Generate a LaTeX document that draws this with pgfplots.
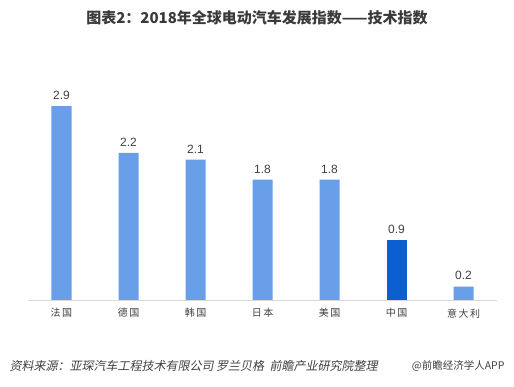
\documentclass[border=0pt]{standalone}
\usepackage{fontspec}
\setmainfont{Liberation Sans}
\newfontfamily\cjk{Noto Sans CJK SC}
\newfontfamily\cjkit{Noto Sans CJK SC}[FakeSlant=0.2]
\usepackage{pgfplots}
\pgfplotsset{compat=1.18}
\definecolor{barblue}{HTML}{699EE8}
\definecolor{cnblue}{HTML}{0C5FD0}
\definecolor{axgray}{HTML}{D9D9D9}
\definecolor{txt}{HTML}{404040}
\begin{document}
\begin{tikzpicture}[x=1pt,y=1pt]
\path[use as bounding box] (0,0) rectangle (514,387);
\node[font=\cjk\bfseries\fontsize{15}{17}\selectfont, text=txt!90!black] at (257,369) {图表2：2018年全球电动汽车发展指数——技术指数};
\begin{axis}[
  at={(28pt,87pt)}, anchor=south west,
  scale only axis, width=469pt, height=234pt,
  xmin=-0.5, xmax=6.5, ymin=0, ymax=3.5,
  axis x line*=bottom, axis y line=none,
  x axis line style={draw=axgray, line width=0.8pt},
  xtick={0,1,2,3,4,5,6},
  xticklabels={法\hspace{1.5pt}国,德\hspace{1.5pt}国,韩\hspace{1.5pt}国,日\hspace{1.5pt}本,美\hspace{1.5pt}国,中\hspace{1.5pt}国,意\hspace{1.5pt}大\hspace{1.5pt}利},
  xticklabel style={font=\cjk\fontsize{10}{12}\selectfont, text=txt, yshift=-5pt},
  major tick length=0pt,
  ybar, bar width=20pt, bar shift=0pt,
  nodes near coords,
  nodes near coords style={font=\fontsize{12}{14}\selectfont, text=txt, yshift=3pt, /pgf/number format/fixed, /pgf/number format/precision=1, /pgf/number format/fixed zerofill},
  /pgf/number format/assume math mode=true,
  clip=false,
]
\addplot[fill=barblue, draw=none] coordinates {(0,2.9) (1,2.2) (2,2.1) (3,1.8) (4,1.8) (6,0.2)};
\addplot[fill=cnblue, draw=none] coordinates {(5,0.9)};
\end{axis}
\node[anchor=west, font=\cjkit\fontsize{12}{14}\selectfont, text=txt] at (6,21) {资料来源：亚琛汽车工程技术有限公司 罗兰贝格\ \ 前瞻产业研究院整理};
\node[anchor=east, font=\cjk\fontsize{10.5}{12}\selectfont, text=txt] at (508,21) {@前瞻经济学人APP};
\end{tikzpicture}
\end{document}
